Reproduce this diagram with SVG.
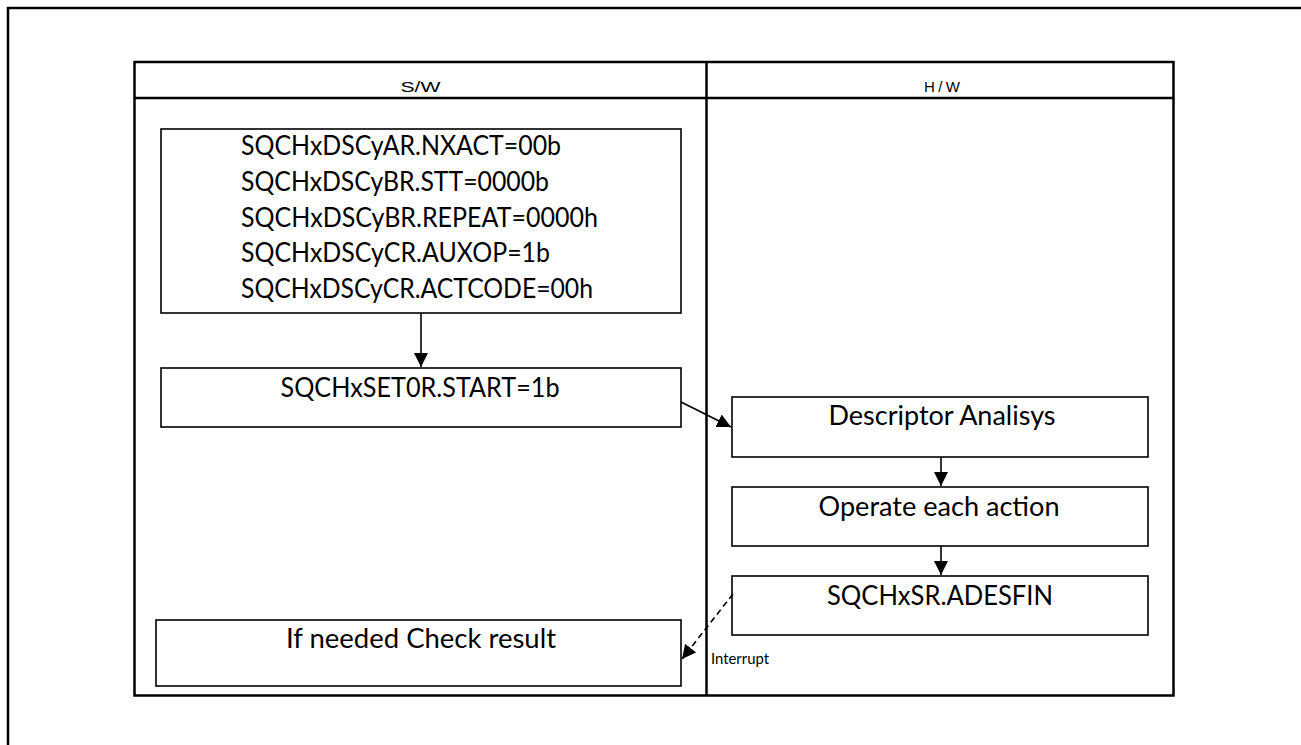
<svg xmlns="http://www.w3.org/2000/svg" width="1301" height="745" viewBox="0 0 1301 745">
<defs>
<marker id="ah" markerUnits="userSpaceOnUse" markerWidth="15" markerHeight="15" refX="14" refY="7" orient="auto">
<path d="M0,0 L14,7 L0,14 z" fill="#000"/>
</marker>
<style>
.frame{fill:none;stroke:#000;stroke-width:2.5}
.tbl{fill:none;stroke:#000;stroke-width:2.5}
.box{fill:#fff;stroke:#000;stroke-width:1.6}
.hdr{font-family:"Liberation Sans",Arial,sans-serif;font-size:15px;fill:#000;text-anchor:middle}
.t{font-family:Lato,"Open Sans",sans-serif;font-size:26px;fill:#000}
.c{text-anchor:middle}
.small{font-family:Lato,"Open Sans",sans-serif;font-size:15px;fill:#000}
.conn{stroke:#000;stroke-width:1.6;fill:none}
</style>
</defs>
<rect width="1301" height="745" fill="#fff"/>
<g id="outer-frame">
<path class="frame" d="M8,746 L8,8 L1302,8"/>
</g>
<g id="swimlanes">
<rect class="tbl" x="134.5" y="62" width="1039" height="633.5"/>
<line class="tbl" x1="134.5" y1="98" x2="1173.5" y2="98"/>
<line class="tbl" x1="706.5" y1="62" x2="706.5" y2="695.5"/>
<text class="hdr" x="420.5" y="92" textLength="40" lengthAdjust="spacingAndGlyphs">S/W</text>
<text class="hdr" x="942" y="92" textLength="36" lengthAdjust="spacing">H/W</text>
</g>
<g id="node-init">
<rect class="box" x="161" y="129" width="520" height="184"/>
<text class="t" x="241" y="155" textLength="320" lengthAdjust="spacingAndGlyphs">SQCHxDSCyAR.NXACT=00b</text>
<text class="t" x="241" y="191" textLength="308" lengthAdjust="spacingAndGlyphs">SQCHxDSCyBR.STT=0000b</text>
<text class="t" x="241" y="227" textLength="357" lengthAdjust="spacingAndGlyphs">SQCHxDSCyBR.REPEAT=0000h</text>
<text class="t" x="241" y="262" textLength="309" lengthAdjust="spacingAndGlyphs">SQCHxDSCyCR.AUXOP=1b</text>
<text class="t" x="241" y="298" textLength="352" lengthAdjust="spacingAndGlyphs">SQCHxDSCyCR.ACTCODE=00h</text>
</g>
<g id="node-start">
<rect class="box" x="161" y="368" width="520" height="59"/>
<text class="t c" x="420" y="397" textLength="279" lengthAdjust="spacingAndGlyphs">SQCHxSET0R.START=1b</text>
</g>
<g id="node-descriptor">
<rect class="box" x="732" y="397" width="416" height="60"/>
<text class="t c" x="942" y="425" textLength="227" lengthAdjust="spacingAndGlyphs">Descriptor Analisys</text>
</g>
<g id="node-operate">
<rect class="box" x="732" y="487" width="416" height="59"/>
<text class="t c" x="939" y="516" textLength="241" lengthAdjust="spacingAndGlyphs">Operate each action</text>
</g>
<g id="node-adesfin">
<rect class="box" x="732" y="576" width="416" height="59"/>
<text class="t c" x="940" y="605" textLength="226" lengthAdjust="spacingAndGlyphs">SQCHxSR.ADESFIN</text>
</g>
<g id="node-check">
<rect class="box" x="156" y="620" width="525" height="66"/>
<text class="t c" x="421" y="648" textLength="270" lengthAdjust="spacingAndGlyphs">If needed Check result</text>
</g>
<g id="connectors">
<line class="conn" x1="421" y1="313" x2="421" y2="367" marker-end="url(#ah)"/>
<line class="conn" x1="681" y1="402" x2="731" y2="427" marker-end="url(#ah)"/>
<line class="conn" x1="941" y1="457" x2="941" y2="486" marker-end="url(#ah)"/>
<line class="conn" x1="941" y1="546" x2="941" y2="575" marker-end="url(#ah)"/>
<line class="conn" x1="733" y1="594" x2="682" y2="659" stroke-dasharray="6,4" marker-end="url(#ah)"/>
<text class="small" x="711" y="664" textLength="58" lengthAdjust="spacingAndGlyphs">Interrupt</text>
</g>
</svg>
